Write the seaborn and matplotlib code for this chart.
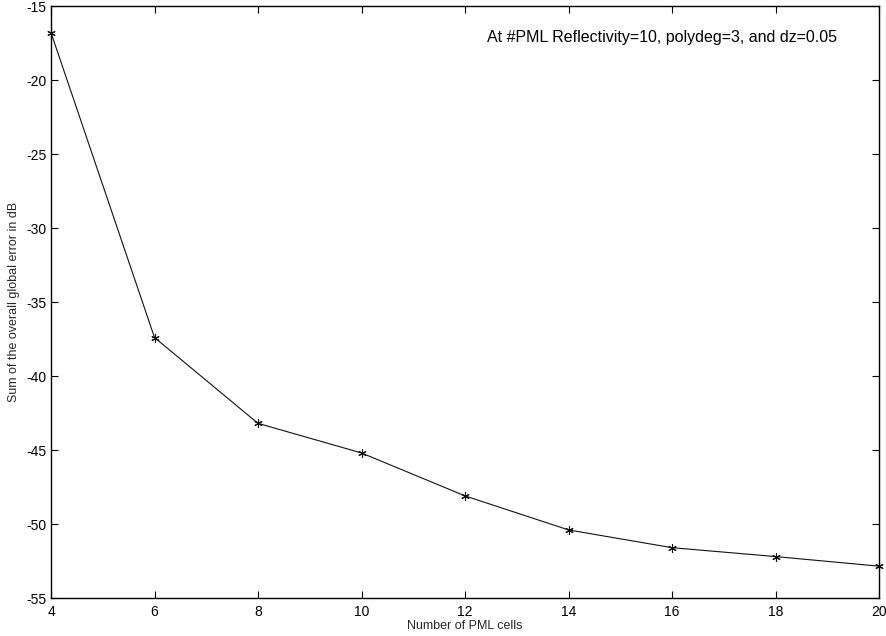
import matplotlib
matplotlib.use("Agg")
import matplotlib.pyplot as plt
import seaborn as sns
import pandas as pd

pml_cells = [4, 6, 8, 10, 12, 14, 16, 18, 20]
error_db = [-16.8, -37.4, -43.2, -45.2, -48.1, -50.4, -51.6, -52.2, -52.85]
x_ticks = [4, 6, 8, 10, 12, 14, 16, 18, 20]
y_ticks = [-55, -50, -45, -40, -35, -30, -25, -20, -15]

sns.set_theme(style="white")
plt.rcParams['font.family'] = ['Liberation Sans', 'DejaVu Sans']
plt.rcParams['xtick.direction'] = 'in'
plt.rcParams['ytick.direction'] = 'in'

df = pd.DataFrame({"cells": pml_cells, "err": error_db})

fig = plt.figure(figsize=(8.86, 6.36), dpi=100)
ax = fig.add_axes([51/886, 1-598/636, (879-51)/886, (598-6)/636])
sns.lineplot(data=df, x="cells", y="err", ax=ax, color="#111111", linewidth=0.8,
             marker=(6, 2, 0), markersize=6, markeredgecolor="#111111",
             markeredgewidth=0.8, clip_on=False)
ax.set_xlim(4, 20)
ax.set_ylim(-55, -15)
ax.set_xticks(x_ticks)
ax.set_yticks(y_ticks)
ax.set_xticklabels([str(v) for v in x_ticks], fontsize=10)
ax.set_yticklabels([str(v) for v in y_ticks], fontsize=10)
ax.tick_params(axis='both', which='both', direction='in', length=5, width=0.8,
               top=True, right=True, bottom=True, left=True, pad=3, colors='black')
ax.tick_params(axis='x', pad=5)
for s in ax.spines.values():
    s.set_color('black')
    s.set_linewidth(1.0)
ax.set_xlabel("Number of PML cells", fontsize=9, labelpad=1)
ax.set_ylabel("Sum of the overall global error in dB", fontsize=9, labelpad=5)
ax.text(15.8, -17.1, "At #PML Reflectivity=10, polydeg=3, and dz=0.05",
        fontsize=11.5, ha='center', va='center', color='black')
fig.savefig("out.png", dpi=100)
